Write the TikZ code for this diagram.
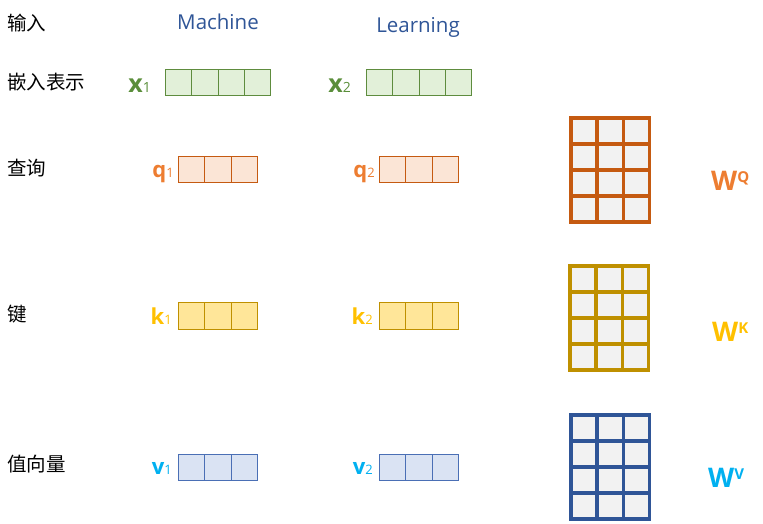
\documentclass[tikz,border=0pt]{standalone}
\usepackage{fontspec}
\setmainfont{Open Sans}
\newfontfamily\cjk{Noto Sans CJK SC}
\usetikzlibrary{positioning}

\definecolor{wordblue}{HTML}{2F5597}
\definecolor{xline}{HTML}{5E8C3E}
\definecolor{xfill}{HTML}{E2F0D9}
\definecolor{xtext}{HTML}{5A8E3A}
\definecolor{qline}{HTML}{C55A11}
\definecolor{qfill}{HTML}{FBE5D6}
\definecolor{qtext}{HTML}{ED7D31}
\definecolor{kline}{HTML}{BF9000}
\definecolor{kfill}{HTML}{FFE699}
\definecolor{ktext}{HTML}{FFC000}
\definecolor{vline}{HTML}{4A6FB5}
\definecolor{vfill}{HTML}{DAE3F3}
\definecolor{vtext}{HTML}{00B0F0}
\definecolor{mfill}{HTML}{F2F2F2}
\definecolor{vmline}{HTML}{2F5597}

\tikzset{
    rowname/.style={anchor=west, inner sep=0pt, font=\cjk\fontsize{19.5}{19.5}\selectfont},
    word/.style={anchor=base, inner sep=0pt, text=wordblue, font=\fontsize{20.5}{20.5}\selectfont},
    cell/.style={draw, minimum width=26.25pt, minimum height=26.5pt, inner sep=0pt, outer sep=0pt, line width=0.8pt},
    xcell/.style={cell, draw=xline, fill=xfill},
    qcell/.style={cell, draw=qline, fill=qfill},
    kcell/.style={cell, draw=kline, fill=kfill},
    vcell/.style={cell, draw=vline, fill=vfill},
    veclabel/.style={anchor=base east, inner sep=0pt},
    mcell/.style={draw, fill=mfill, minimum width=26.3pt, minimum height=26pt, inner sep=0pt, outer sep=0pt, line width=3.5pt},
    wlabel/.style={anchor=base west, inner sep=0pt, font=\bfseries\fontsize{27}{27}\selectfont}
}

\begin{document}
\begin{tikzpicture}[x=1pt, y=-1pt]
    \useasboundingbox (0,0) rectangle (763,523);

    % row names
    \node[rowname] (in) at (7,23) {输入};
    \node[rowname] (emb) at (7,82.5) {嵌入表示};
    \node[rowname] (qry) at (7,168) {查询};
    \node[rowname] (key) at (7,314) {键};
    \node[rowname] (val) at (7,464) {值向量};

    \node[word] (w1) at (218,29) {Machine};
    \node[word] (w2) at (418,32) {Learning};

    % vectors
    \foreach \v/\x/\y/\n/\s in {x1/165.5/82.5/4/xcell, x2/366.5/82.5/4/xcell,
                                 q1/178.5/169.5/3/qcell, q2/379.5/169.5/3/qcell,
                                 k1/178.5/316/3/kcell, k2/379.5/316/3/kcell,
                                 v1/178.5/467.5/3/vcell, v2/379.5/467.5/3/vcell} {
        \foreach \i in {1,...,\n}
            \node[\s] (\v-\i) at (\x+26.25*\i-13.125,\y) {};
    }

    \node[veclabel, text=xtext] (x1l) at (151,92) {\fontsize{25}{25}\selectfont\bfseries x\fontsize{14}{14}\selectfont\mdseries 1};
    \node[veclabel, text=xtext] (x2l) at (351,92) {\fontsize{25}{25}\selectfont\bfseries x\fontsize{14}{14}\selectfont\mdseries 2};
    \node[veclabel, text=qtext] (q1l) at (174,177) {\fontsize{22}{22}\selectfont\bfseries q\fontsize{13}{13}\selectfont\mdseries 1};
    \node[veclabel, text=qtext] (q2l) at (375,177) {\fontsize{22}{22}\selectfont\bfseries q\fontsize{13}{13}\selectfont\mdseries 2};
    \node[veclabel, text=ktext] (k1l) at (172,324) {\fontsize{22}{22}\selectfont\bfseries k\fontsize{13}{13}\selectfont\mdseries 1};
    \node[veclabel, text=ktext] (k2l) at (373,324) {\fontsize{22}{22}\selectfont\bfseries k\fontsize{13}{13}\selectfont\mdseries 2};
    \node[veclabel, text=vtext] (v1l) at (172,474) {\fontsize{22}{22}\selectfont\bfseries v\fontsize{13}{13}\selectfont\mdseries 1};
    \node[veclabel, text=vtext] (v2l) at (373,474) {\fontsize{22}{22}\selectfont\bfseries v\fontsize{13}{13}\selectfont\mdseries 2};

    % weight matrices
    \foreach \m/\x/\y/\c in {WQ/570.75/117.75/qline, WK/569.75/265.75/kline, WV/570.75/414.75/vmline} {
        \foreach \r in {1,...,4}
            \foreach \k in {1,...,3}
                \node[mcell, draw=\c] (\m-\r-\k) at (\x+26.3*\k-13.15,\y+26*\r-13) {};
    }

    \node[wlabel, text=qtext] (wq) at (711,190) {W\raisebox{7.5pt}{\fontsize{15}{15}\selectfont Q}};
    \node[wlabel, text=ktext] (wk) at (712,341) {W\raisebox{7.5pt}{\fontsize{15}{15}\selectfont K}};
    \node[wlabel, text=vtext] (wv) at (708,487) {W\raisebox{7.5pt}{\fontsize{15}{15}\selectfont V}};
\end{tikzpicture}
\end{document}
